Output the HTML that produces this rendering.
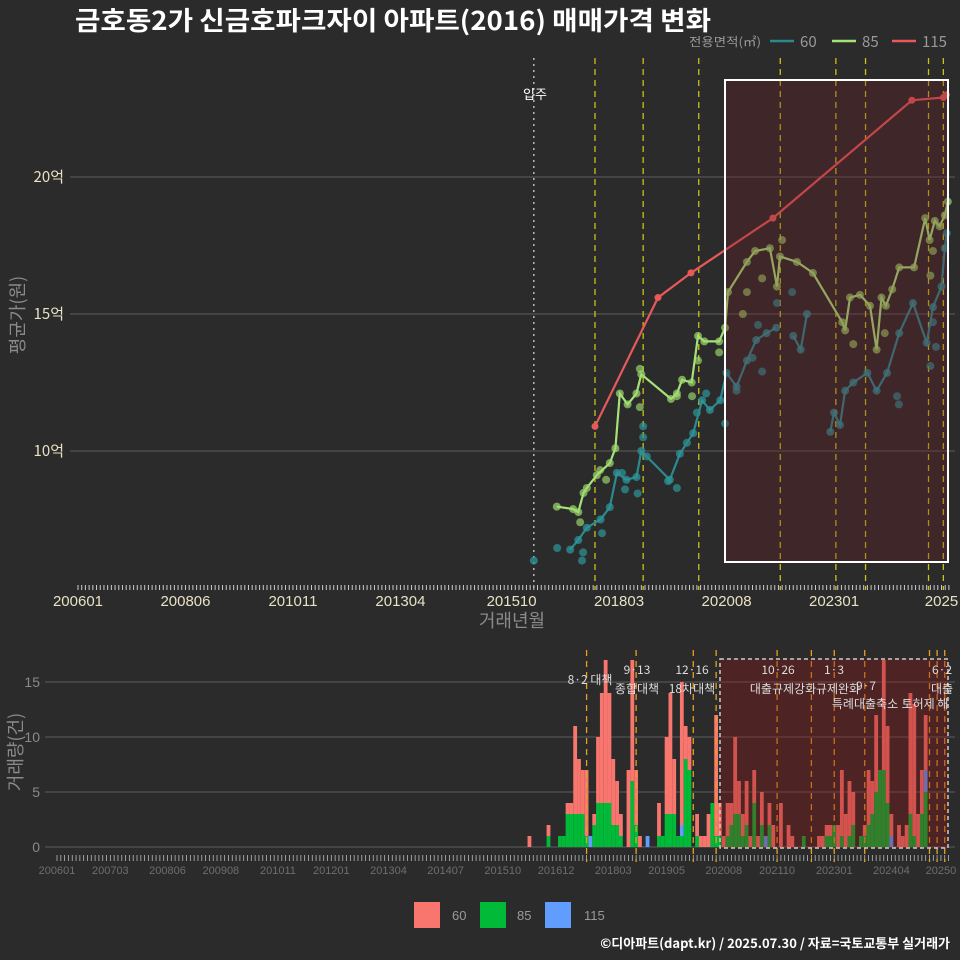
<!DOCTYPE html>
<html><head><meta charset="utf-8">
<style>
html,body{margin:0;padding:0;background:#2b2b2b;}
svg{display:block;font-family:"Liberation Sans","Noto Sans CJK KR",sans-serif;}
</style></head>
<body>
<svg id="c" width="960" height="960" viewBox="0 0 960 960" xmlns="http://www.w3.org/2000/svg">
<rect x="0" y="0" width="960" height="960" fill="#2b2b2b"/>
<text x="75" y="30" font-size="26" font-weight="bold" fill="#ffffff" textLength="636" lengthAdjust="spacingAndGlyphs" font-family="'Noto Sans CJK KR',sans-serif">금호동2가 신금호파크자이 아파트(2016) 매매가격 변화</text>
<g font-family="'Noto Sans CJK KR',sans-serif">
<text x="689" y="46" font-size="12" fill="#9a9a9a" textLength="72" lengthAdjust="spacingAndGlyphs">전용면적(㎡)</text>
<line x1="770" y1="41" x2="794" y2="41" stroke="#2b8a8f" stroke-width="2.5"/>
<text x="800" y="47" font-size="15" fill="#9a9a9a">60</text>
<line x1="832" y1="41" x2="856" y2="41" stroke="#a6e27a" stroke-width="2.5"/>
<text x="862" y="47" font-size="15" fill="#9a9a9a">85</text>
<line x1="892" y1="41" x2="916" y2="41" stroke="#e85a5a" stroke-width="2.5"/>
<text x="922" y="47" font-size="15" fill="#9a9a9a">115</text>
</g>
<g id="top"></g>
<g id="bot"></g>
<g>
<rect x="414" y="902" width="26" height="26" fill="#f8766d"/>
<text x="452" y="920" font-size="13" fill="#9a9a9a">60</text>
<rect x="480" y="902" width="26" height="26" fill="#00ba38"/>
<text x="517" y="920" font-size="13" fill="#9a9a9a">85</text>
<rect x="545" y="902" width="26" height="26" fill="#619cff"/>
<text x="584" y="920" font-size="13" fill="#9a9a9a">115</text>
</g>
<text x="950" y="948" text-anchor="end" font-size="13" font-weight="bold" fill="#ffffff" font-family="'Noto Sans CJK KR',sans-serif">©디아파트(dapt.kr) / 2025.07.30 / 자료=국토교통부 실거래가</text>
</svg>
<script>
// ---- data (months since 2006-01) ----
const m115 = [139.5,156.5,165.4,187.5,225,233.5,234.3];
const v115 = [10.9,15.6,16.5,18.5,22.8,22.9,23.0];
const m85 = [129.2,133.6,135,136.4,137.3,140,143.5,145,146.2,148.3,150.7,152,160,161.6,163,165.6,167.3,169,173,174.6,175.4,180.5,182.7,186.7,188.6,189.4,194,198.3,206.2,207,208.3,211,213.7,215.5,216.8,218,219.7,221.6,225.6,228.6,229.8,231.2,232.5,233.9,234.7];
const v85 = [7.97,7.88,7.77,8.47,8.65,9.12,9.56,10.1,12.1,11.7,12.1,12.8,11.9,12.1,12.6,12.5,14.2,14.0,14.0,14.5,15.8,16.9,17.3,17.4,16.0,17.1,16.9,16.5,14.7,14.4,15.6,15.7,15.3,13.7,15.6,15.3,15.9,16.7,16.7,18.5,17.7,18.4,18.2,18.6,19.1];
const m60 = [123,null,132.8,135,137.3,141,143.5,145.4,148,150.7,152,159.7,162.4,166,168.4,170.5,173.3,175,177.7,180.5,183,185.8,188.4,null,193,195,196.7,null,203,204,205.6,207,209.2,213,215.5,218.3,221.6,225.3,229,230.7,233,233.9,234.4];
const v60 = [6.0,null,6.4,6.75,7.2,7.5,7.95,9.2,8.95,9.05,10.0,8.95,9.9,10.65,11.85,11.5,11.85,12.85,12.35,13.3,14.05,14.3,14.5,null,14.2,13.7,15.0,null,10.7,11.4,10.95,12.2,12.5,12.85,12.2,12.85,14.3,15.4,13.95,15.25,16.0,17.4,17.95];
// individual trades (scatter only)
const s60m = [129.3,136,136.3,141.4,146.8,147.6,151,152.5,152.5,153.5,159.2,161.6,164.3,167,169.5,174.6,177.7,182,184.6,183.5,188.6,192.7,221,221.5,230,231.5,230.7];
const s60v = [6.46,6.0,6.3,7.0,9.2,8.6,8.45,10.9,10.5,9.8,8.9,8.65,10.3,11.4,12.1,11.0,12.2,13.4,12.9,14.6,15.4,15.8,12.0,11.7,13.1,13.8,14.7];
const s85m = [135.5,140.9,142.5,151.6,151.6,161.6,165.7,167.3,173,179.4,180.5,184.6,190,209.2,217.7,230,230.7];
const s85v = [7.4,9.3,8.95,11.6,13.0,12.0,12.0,13.3,13.6,15.0,15.8,16.3,17.7,13.9,14.3,16.4,17.3];
const yTicksTop = [10,15,20];
const xTickLabels = ["200601","200806","201011","201304","201510","201803","202008","202301","2025"];
const xTickMonths = [0,29,58,87,117,146,175,204,233];
// volume
const volMonths = [124,129,132,133,134,135,136,137,138,139,140,141,142,143,144,145,146,147,148,150,151,152,153,155,158,159,160,161,162,163,164,165,166,168,169,170,171,172,173,174,175,176,177,178,179,180,181,182,183,184,185,186,187,188,190,192,193,196,200,201,202,203,204,205,206,207,208,209,211,212,213,214,215,216,217,218,219,221,222,223,224,225,226,227,228];
const vol60 = [1,1,0,0,1,1,8,5,4,6,0,1,6,10,13,10,6,4,2,7,11,5,1,0,3,0,7,11,5,0,13,3,3,2,1,1,3,0,11,3,1,3,2,7,3,2,4,1,3,1,3,0,2,2,4,2,1,0,1,1,1,1,0,2,6,3,5,3,0,1,5,3,7,0,10,7,2,2,1,2,11,12,3,4,5];
const vol85 = [0,1,1,1,3,3,3,3,3,1,0,2,4,4,4,4,2,2,1,0,6,2,0,0,1,1,3,3,3,1,1,8,7,1,0,0,0,4,1,1,0,1,2,3,3,1,2,0,4,0,2,0,2,0,0,0,0,1,0,0,1,1,2,0,1,0,1,2,1,1,2,3,5,7,7,4,0,0,0,0,3,1,0,3,5];
const vol115 = [0,0,0,0,0,0,0,0,0,0,1,0,0,0,0,0,0,0,0,0,0,0,0,1,0,0,0,0,0,0,1,0,0,0,0,0,0,0,0,0,0,0,0,0,0,0,0,0,0,0,0,1,0,0,0,0,0,0,0,0,0,0,0,0,0,0,0,0,0,0,0,0,0,0,0,0,1,0,0,0,0,0,0,0,2];
const yTicksBot = [0,5,10,15];
const botLabels = ["200601","200703","200806","200908","201011","201201","201304","201407","201510","201612","201803","201905","202008","202110","202301","202404","202505"];
const policyTop = [123,139.5,152.5,167.5,189.5,204.5,212.5,229.5,233.5];
const policyBot = [139,152,167,173,189,198,204,212,229,231,233];

const NS="http://www.w3.org/2000/svg";
function mk(tag,attrs,parent,txt){const e=document.createElementNS(NS,tag);for(const k in attrs)e.setAttribute(k,attrs[k]);if(txt!==undefined)e.textContent=txt;parent.appendChild(e);return e;}
const gTop=document.getElementById('top'), gBot=document.getElementById('bot');

// top axes
const xT=m=>78+m*3.706, yT=v=>451-(v-10)*27.4;
for(const t of yTicksTop){
  const l=mk('line',{x1:70,x2:955,y1:yT(t),y2:yT(t),stroke:'#5e5e5e','stroke-width':1},gTop);
  
  
  const tx=mk('text',{x:64,y:yT(t)+5,'text-anchor':'end','font-size':15,fill:'#e8e2c4','font-family':"'Noto Sans CJK KR',sans-serif"},gTop,t+'억');
  
  
}
for(let m=0;m<=235;m++){
  const l=mk('line',{x1:xT(m),x2:xT(m),y1:585,y2:590,stroke:'#cccccc','stroke-width':1},gTop);
  
  
}
xTickLabels.forEach((s,i)=>{
  const t=mk('text',{x:xT(xTickMonths[i]),y:606,'text-anchor':'middle','font-size':15,fill:'#e8e2c4'},gTop,s);
  
  
});
let t1=mk('text',{x:512,y:627,'text-anchor':'middle','font-size':18,fill:'#8a8a8a','font-family':"'Noto Sans CJK KR',sans-serif"},gTop,'거래년월');


let t2=mk('text',{x:24,y:315,'text-anchor':'middle','font-size':18,fill:'#8a8a8a',transform:'rotate(-90 24 315)','font-family':"'Noto Sans CJK KR',sans-serif"},gTop,'평균가(원)');


policyTop.forEach((m,i)=>{
  const l=mk('line',{x1:xT(m),x2:xT(m),y1:58,y2:590,stroke:i==0?'#cccccc':'#c8c21a','stroke-width':1.3,'stroke-dasharray':i==0?'2 4':'6 5'},gTop);
  
  
});
let ti=mk('text',{x:535,y:99,'text-anchor':'middle','font-size':13,fill:'#ffffff','font-family':"'Noto Sans CJK KR',sans-serif"},gTop,'입주');


function dots(ms,vs,dot,name,r){
  ms.forEach((m,i)=>{
    if(m===null)return;
    const c=mk('circle',{cx:xT(m),cy:yT(vs[i]),r:r,fill:dot},gTop);
    
    
  });
}
function series(ms,vs,col,dot,name,r){
  let d='',pen=false;
  ms.forEach((m,i)=>{if(m===null){pen=false;return;}d+=(pen?'L':'M')+xT(m).toFixed(1)+' '+yT(vs[i]).toFixed(1);pen=true;});
  const p=mk('path',{d:d,fill:'none',stroke:col,'stroke-width':2.2},gTop);
  
  
  dots(ms,vs,dot,name,r);
}
dots(s60m,s60v,'rgba(46,150,155,0.7)','trade-60',4);
dots(s85m,s85v,'rgba(160,220,110,0.65)','trade-85',4);
series(m60,v60,'#2b8a8f','rgba(46,150,155,0.75)','series-60',4);
series(m85,v85,'#a6e27a','rgba(160,220,110,0.7)','series-85',4);
series(m115,v115,'#e85a5a','#e85a5a','series-115',3.5);
let hr=mk('rect',{x:725,y:80,width:223,height:482,fill:'rgba(110,25,35,0.3)',stroke:'#ffffff','stroke-width':2},gTop);



// bottom chart
const xB=m=>57+m*3.81, yB=v=>847-v*11;
const lblMonth=s=>(parseInt(s.slice(0,4))-2006)*12+parseInt(s.slice(4,6))-1;
for(const t of yTicksBot){
  const l=mk('line',{x1:45,x2:955,y1:yB(t),y2:yB(t),stroke:'#5e5e5e','stroke-width':1},gBot);
  
  
  const tx=mk('text',{x:40,y:yB(t)+5,'text-anchor':'end','font-size':14,fill:'#8a8a8a'},gBot,String(t));
  
  
}
for(let m=0;m<=234;m++){
  const l=mk('line',{x1:xB(m),x2:xB(m),y1:855,y2:861,stroke:'#bbbbbb','stroke-width':0.8},gBot);
  
  
}
botLabels.forEach((s,i)=>{
  const t=mk('text',{x:xB(lblMonth(s)),y:874,'text-anchor':'middle','font-size':11,fill:'#6e6e6e'},gBot,i==botLabels.length-1?s.slice(0,5):s);
  
  
});
let t3=mk('text',{x:22,y:752,'text-anchor':'middle','font-size':18,fill:'#8a8a8a',transform:'rotate(-90 22 752)','font-family':"'Noto Sans CJK KR',sans-serif"},gBot,'거래량(건)');


const bw=3.81;
volMonths.forEach((m,i)=>{
  const x=xB(m)-bw/2;let base=0;
  const parts=[[vol85[i],'#00ba38','bar-85'],[vol115[i],'#619cff','bar-115'],[vol60[i],'#f8766d','bar-60']];
  for(const [v,c,n] of parts){
    if(!v)continue;
    const r=mk('rect',{x:x,y:yB(base+v),width:bw,height:v*11,fill:c},gBot);
    
    
    base+=v;
  }
});
policyBot.forEach(m=>{
  const l=mk('line',{x1:xB(m),x2:xB(m),y1:650,y2:862,stroke:'#e8a020','stroke-width':1.3,'stroke-dasharray':'6 5'},gBot);
  
  
});
let br=mk('rect',{x:720,y:659,width:228,height:189,fill:'rgba(140,20,20,0.35)',stroke:'#cccccc','stroke-width':1.5,'stroke-dasharray':'4 3'},gBot);


const ann=[[590,684,'8·2 대책'],[637,674,'9·13'],[637,693,'종합대책'],[692,674,'12·16'],[692,693,'18차대책'],[778,674,'10·26'],[783,693,'대출규제강화'],[834,674,'1·3'],[838,693,'규제완화'],[866,690,'9·7'],[865,708,'특례대출축소'],[925,708,'토허제 해'],[942,674,'6·2'],[942,693,'대출']];
ann.forEach(a=>{
  const t=mk('text',{x:a[0],y:a[1],'text-anchor':'middle','font-size':12,fill:'#dddddd','font-family':"'Noto Sans CJK KR',sans-serif"},gBot,a[2]);
  
  
});
</script>
</body></html>
